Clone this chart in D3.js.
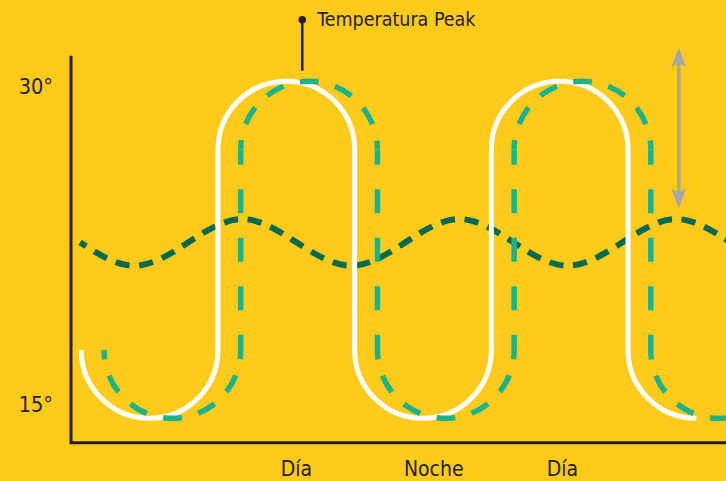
<!DOCTYPE html>
<html><head><meta charset="utf-8">
<script src="https://cdn.jsdelivr.net/npm/d3@7"></script>
<style>
html,body{margin:0;padding:0;background:#FECA1B;}
svg{display:block;}
text{font-family:"Liberation Sans Narrow","DejaVu Sans Condensed","Liberation Sans",sans-serif;fill:#231F20;}
</style></head><body>
<svg id="chart" width="726" height="481"></svg>
<script>
// ---- data ----
const yTicks = [15, 30];
const yTickLabels = ["15°", "30°"];
const xLabelTimes = [15.85, 27.9, 39.2];
const xLabels = ["Día", "Noche", "Día"];
// white solid and green dashed waves: peaks & troughs in hours
const whitePeaks = [15, 39];
const whiteTroughs = [3, 27, 51];
const greenPeaks = [17, 41];
const greenTroughs = [5, 29, 53];
const peakTemp = 30.2, troughTemp = 14.3, halfWidth = 6;
// dark dashed wave
const darkTimes = [-3.1, 1.65, 6.4, 11.15, 15.9, 20.7, 25.45, 30.2, 34.95, 39.7, 44.5, 49.25, 54.0];
const darkTemps = [22.6, 21.5, 22.6, 23.7, 22.6, 21.5, 22.6, 23.7, 22.6, 21.5, 22.6, 23.7, 22.6];
// annotations
const noteTime = 16.4, noteLow = 30.7, noteHigh = 33.1, noteText = "Temperatura Peak";
const arrowTime = 49.45, arrowLow = 24.2, arrowHigh = 31.8;
const axisStart = -3.9, axisEnd = 53.6, axisTopTemp = 31.4, axisBaseTemp = 13.15;

// ---- colours ----
const BG = "#FECA1B", INK = "#231F20", WHITE = "#FFFFFF", TEAL = "#1BB38A", DARK = "#006A50", GREY = "#A7A7A7";

const svg = d3.select("#chart");
svg.append("rect").attr("width", 726).attr("height", 481).attr("fill", BG);

const x = d3.scaleLinear().domain([axisStart, axisEnd]).range([71, 726]);
const y = d3.scaleLinear().domain([15, 30]).range([403.5, 85.5]);

// axes lines
svg.append("path")
  .attr("d", `M${x(axisStart)},${y(axisTopTemp)}V${y(axisBaseTemp)}H${x(axisEnd)}`)
  .attr("fill", "none").attr("stroke", INK).attr("stroke-width", 3);

// y tick labels
const yAxis = d3.axisLeft(y).tickValues(yTicks).tickFormat((d, i) => yTickLabels[i]).tickSize(0).tickPadding(18);
const gy = svg.append("g").attr("transform", `translate(${x(axisStart)},0)`).call(yAxis);
gy.select(".domain").remove();
gy.selectAll("text").style("font-size", "21.5px").attr("fill", INK).attr("dy", "0.38em");

// x labels
const xAxis = d3.axisBottom(x).tickValues(xLabelTimes).tickFormat((d, i) => xLabels[i]).tickSize(0).tickPadding(18);
const gx = svg.append("g").attr("transform", `translate(0,${y(axisBaseTemp)})`).call(xAxis);
gx.select(".domain").remove();
gx.selectAll("text").style("font-size", "21px").attr("fill", INK);

// ---- dark dashed wave ----
const darkLine = d3.line().x((d, i) => x(darkTimes[i])).y(d => y(d)).curve(d3.curveNatural);
const dark = svg.append("path").attr("d", darkLine(darkTemps))
  .attr("fill", "none").attr("stroke", DARK).attr("stroke-width", 6);
{
  const L = dark.node().getTotalLength();
  const period = L / 30, dash = period * 0.6;
  dark.attr("stroke-dasharray", `${dash} ${period - dash}`).attr("stroke-dashoffset", dash / 2);
}

// ---- stadium waves ----
function stadium(peaks, troughs, fullLast) {
  const ext = peaks.map(t => ({t, k: "p"})).concat(troughs.map(t => ({t, k: "t"}))).sort((a, b) => a.t - b.t);
  const r = x(halfWidth) - x(0);
  const cTop = y(peakTemp) + r, cBot = y(troughTemp) - r;
  const segs = [];
  ext.forEach((e, i) => {
    const cx = x(e.t);
    const last = i === ext.length - 1;
    if (e.k === "t") segs.push({type: "arc", cx, cy: cBot, r, a0: Math.PI, a1: (last && !fullLast) ? Math.PI / 2 : 0, ccw: true});
    else segs.push({type: "arc", cx, cy: cTop, r, a0: Math.PI, a1: 2 * Math.PI, ccw: false});
    if (!last) {
      const yA = e.k === "t" ? cBot : cTop, yB = e.k === "t" ? cTop : cBot;
      segs.push({type: "line", x: cx + r, y0: yA, y1: yB});
    }
  });
  return segs;
}

// white solid
{
  const segs = stadium(whitePeaks, whiteTroughs, false);
  const p = d3.path();
  segs.forEach(s => {
    if (s.type === "arc") p.arc(s.cx, s.cy, s.r, s.a0, s.a1, s.ccw);
    else p.lineTo(s.x, s.y1);
  });
  svg.append("path").attr("d", p.toString()).attr("fill", "none").attr("stroke", WHITE).attr("stroke-width", 5);
}

// green dashed
{
  const segs = stadium(greenPeaks, greenTroughs, true);
  const mod = (a, b) => ((a % b) + b) % b;
  segs.forEach(s => {
    const p = d3.path();
    let period, dash, offset;
    if (s.type === "arc") {
      p.arc(s.cx, s.cy, s.r, s.a0, s.a1, s.ccw);
      period = Math.PI * s.r / 6; dash = period * 0.53; offset = dash / 2;
    } else {
      p.moveTo(s.x, s.y0); p.lineTo(s.x, s.y1);
      const len = Math.abs(s.y1 - s.y0);
      period = 48.5; dash = 24; offset = mod(dash / 2 - len / 2, period);
    }
    svg.append("path").attr("d", p.toString()).attr("fill", "none").attr("stroke", TEAL)
      .attr("stroke-width", 5.5).attr("stroke-dasharray", `${dash} ${period - dash}`).attr("stroke-dashoffset", offset);
  });
}

// ---- range arrow ----
{
  const ax = x(arrowTime), yt = y(arrowHigh), yb = y(arrowLow);
  const hl = 20, hw = 7.5;
  svg.append("line").attr("x1", ax).attr("x2", ax).attr("y1", yt + 10).attr("y2", yb - 10)
    .attr("stroke", GREY).attr("stroke-width", 3.5);
  svg.append("path").attr("d", `M${ax},${yt}L${ax + hw},${yt + hl}L${ax},${yt + hl - 4}L${ax - hw},${yt + hl}Z`).attr("fill", GREY);
  svg.append("path").attr("d", `M${ax},${yb}L${ax + hw},${yb - hl}L${ax},${yb - hl + 4}L${ax - hw},${yb - hl}Z`).attr("fill", GREY);
}

// ---- peak note ----
{
  const nx = x(noteTime);
  svg.append("line").attr("x1", nx).attr("x2", nx).attr("y1", y(noteHigh)).attr("y2", y(noteLow))
    .attr("stroke", INK).attr("stroke-width", 2.5);
  svg.append("circle").attr("cx", nx).attr("cy", y(noteHigh)).attr("r", 3.8).attr("fill", INK);
  svg.append("text").attr("x", nx + 15).attr("y", y(noteHigh)).attr("dy", "0.34em")
    .style("font-size", "19.5px").text(noteText);
}
</script>
</body></html>
